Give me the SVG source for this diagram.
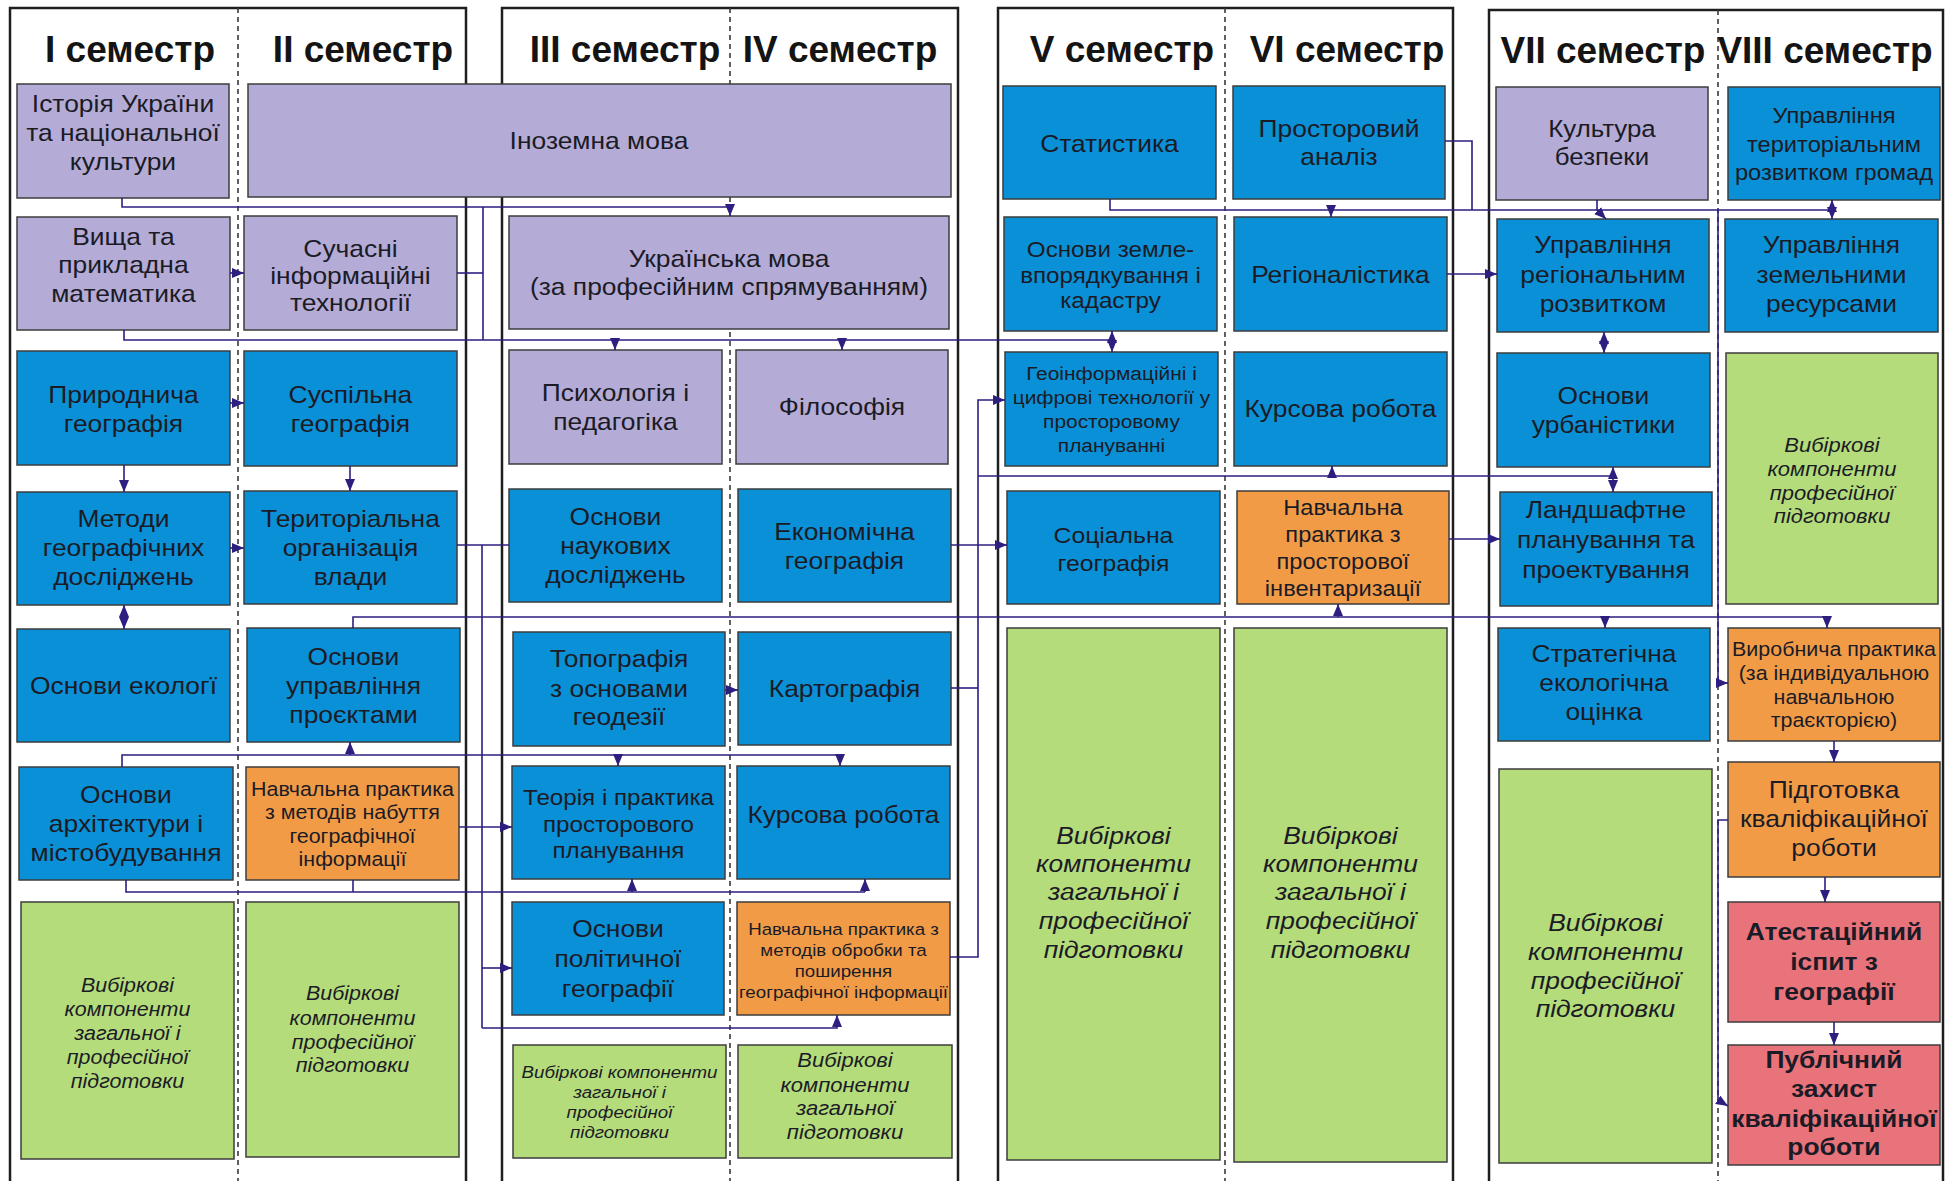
<svg xmlns="http://www.w3.org/2000/svg" width="1946" height="1181" viewBox="0 0 1946 1181">
<style>
.frame{fill:none;stroke:#1e1e1e;stroke-width:2.5}
.dash{stroke:#3a3a3a;stroke-width:1.6;stroke-dasharray:5,4}
.hd{font-family:"Liberation Sans",Arial,sans-serif;font-size:37px;font-weight:bold;fill:#141414;text-anchor:middle}
rect.n{stroke:#3d3d3d;stroke-width:1.5}
.lav{fill:#b4acd6}
.blu{fill:#0a90d7}
.org{fill:#f19b47}
.grn{fill:#b5dc7b}
.red{fill:#e9737b}
.t{font-family:"Liberation Sans",Arial,sans-serif;font-size:24px;fill:#1b1b26;text-anchor:middle;transform-box:fill-box;transform-origin:center;transform:scaleX(1.1)}
.i{font-style:italic}
.b{font-weight:bold}
.c{fill:none;stroke:#2d1f80;stroke-width:1.6}
.ca{fill:none;stroke:#2d1f80;stroke-width:1.6;marker-end:url(#a)}
</style>
<defs>
<marker id="a" viewBox="0 0 12 10" refX="12" refY="5" markerWidth="12" markerHeight="10" markerUnits="userSpaceOnUse" orient="auto"><path d="M0,0 L12,5 L0,10 z" fill="#2d1f80"/></marker>
</defs>
<rect width="1946" height="1181" fill="#ffffff"/>
<g id="frames">
<rect class="frame" x="10" y="8" width="456" height="1190"/>
<rect class="frame" x="502" y="8" width="456" height="1190"/>
<rect class="frame" x="998" y="8" width="455" height="1190"/>
<rect class="frame" x="1489" y="10" width="454" height="1190"/>
<line class="dash" x1="238" y1="8" x2="238" y2="1181"/>
<line class="dash" x1="730" y1="8" x2="730" y2="1181"/>
<line class="dash" x1="1225" y1="8" x2="1225" y2="1181"/>
<line class="dash" x1="1718" y1="10" x2="1718" y2="1181"/>
<text class="hd" x="130" y="62">I семестр</text>
<text class="hd" x="363" y="62">II семестр</text>
<text class="hd" x="625" y="62">III семестр</text>
<text class="hd" x="840" y="62">IV семестр</text>
<text class="hd" x="1122" y="62">V семестр</text>
<text class="hd" x="1347" y="62">VI семестр</text>
<text class="hd" x="1603" y="63">VII семестр</text>
<text class="hd" x="1825" y="63">VIII семестр</text>
</g>
<g id="n1"><rect class="n lav" x="17" y="84" width="212" height="114"/><text class="t"><tspan x="123" y="112">Історія України</tspan><tspan x="123" y="141">та національної</tspan><tspan x="123" y="170">культури</tspan></text></g>
<g id="n2"><rect class="n lav" x="248" y="84" width="703" height="113"/><text class="t"><tspan x="599" y="149">Іноземна мова</tspan></text></g>
<g id="n3"><rect class="n lav" x="17" y="217" width="213" height="113"/><text class="t"><tspan x="123.5" y="245">Вища та</tspan><tspan x="123.5" y="273">прикладна</tspan><tspan x="123.5" y="302">математика</tspan></text></g>
<g id="n4"><rect class="n lav" x="244" y="216" width="213" height="114"/><text class="t"><tspan x="350.5" y="257">Сучасні</tspan><tspan x="350.5" y="284">інформаційні</tspan><tspan x="350.5" y="311">технології</tspan></text></g>
<g id="n5"><rect class="n blu" x="17" y="351" width="213" height="114"/><text class="t"><tspan x="123.5" y="403">Природнича</tspan><tspan x="123.5" y="432">географія</tspan></text></g>
<g id="n6"><rect class="n blu" x="244" y="351" width="213" height="115"/><text class="t"><tspan x="350.5" y="403">Суспільна</tspan><tspan x="350.5" y="432">географія</tspan></text></g>
<g id="n7"><rect class="n blu" x="17" y="492" width="213" height="113"/><text class="t"><tspan x="123.5" y="527">Методи</tspan><tspan x="123.5" y="556">географічних</tspan><tspan x="123.5" y="585">досліджень</tspan></text></g>
<g id="n8"><rect class="n blu" x="244" y="491" width="213" height="113"/><text class="t"><tspan x="350.5" y="527">Територіальна</tspan><tspan x="350.5" y="556">організація</tspan><tspan x="350.5" y="585">влади</tspan></text></g>
<g id="n9"><rect class="n blu" x="17" y="629" width="213" height="113"/><text class="t"><tspan x="123.5" y="694">Основи екологї</tspan></text></g>
<g id="n10"><rect class="n blu" x="247" y="628" width="213" height="114"/><text class="t"><tspan x="353.5" y="665">Основи</tspan><tspan x="353.5" y="694">управління</tspan><tspan x="353.5" y="723">проєктами</tspan></text></g>
<g id="n11"><rect class="n blu" x="19" y="767" width="214" height="113"/><text class="t"><tspan x="126" y="803">Основи</tspan><tspan x="126" y="832">архітектури і</tspan><tspan x="126" y="861">містобудування</tspan></text></g>
<g id="n12"><rect class="n org" x="246" y="767" width="213" height="113"/><text class="t" style="font-size:19.5px"><tspan x="352.5" y="796">Навчальна практика</tspan><tspan x="352.5" y="819">з методів набуття</tspan><tspan x="352.5" y="843">географічної</tspan><tspan x="352.5" y="866">інформації</tspan></text></g>
<g id="n13"><rect class="n grn" x="21" y="902" width="213" height="257"/><text class="t i" style="font-size:19.5px"><tspan x="127.5" y="992">Вибіркові</tspan><tspan x="127.5" y="1016">компоненти</tspan><tspan x="127.5" y="1040">загальної і</tspan><tspan x="127.5" y="1064">професійної</tspan><tspan x="127.5" y="1088">підготовки</tspan></text></g>
<g id="n14"><rect class="n grn" x="246" y="902" width="213" height="255"/><text class="t i" style="font-size:19.5px"><tspan x="352.5" y="1000">Вибіркові</tspan><tspan x="352.5" y="1025">компоненти</tspan><tspan x="352.5" y="1049">професійної</tspan><tspan x="352.5" y="1072">підготовки</tspan></text></g>
<g id="n15"><rect class="n lav" x="509" y="216" width="440" height="113"/><text class="t"><tspan x="729" y="267">Українська мова</tspan><tspan x="729" y="295">(за професійним спрямуванням)</tspan></text></g>
<g id="n16"><rect class="n lav" x="509" y="350" width="213" height="114"/><text class="t"><tspan x="615.5" y="401">Психологія і</tspan><tspan x="615.5" y="430">педагогіка</tspan></text></g>
<g id="n17"><rect class="n lav" x="736" y="350" width="212" height="114"/><text class="t"><tspan x="842" y="415">Філософія</tspan></text></g>
<g id="n18"><rect class="n blu" x="509" y="489" width="213" height="113"/><text class="t"><tspan x="615.5" y="525">Основи</tspan><tspan x="615.5" y="554">наукових</tspan><tspan x="615.5" y="583">досліджень</tspan></text></g>
<g id="n19"><rect class="n blu" x="738" y="489" width="213" height="113"/><text class="t"><tspan x="844.5" y="540">Економічна</tspan><tspan x="844.5" y="569">географія</tspan></text></g>
<g id="n20"><rect class="n blu" x="513" y="632" width="212" height="114"/><text class="t"><tspan x="619" y="667">Топографія</tspan><tspan x="619" y="697">з основами</tspan><tspan x="619" y="725">геодезії</tspan></text></g>
<g id="n21"><rect class="n blu" x="738" y="632" width="213" height="113"/><text class="t"><tspan x="844.5" y="697">Картографія</tspan></text></g>
<g id="n22"><rect class="n blu" x="512" y="766" width="213" height="113"/><text class="t" style="font-size:22px"><tspan x="618.5" y="805">Теорія і практика</tspan><tspan x="618.5" y="832">просторового</tspan><tspan x="618.5" y="858">планування</tspan></text></g>
<g id="n23"><rect class="n blu" x="737" y="766" width="213" height="113"/><text class="t"><tspan x="843.5" y="823">Курсова робота</tspan></text></g>
<g id="n24"><rect class="n blu" x="512" y="902" width="212" height="113"/><text class="t"><tspan x="618" y="937">Основи</tspan><tspan x="618" y="967">політичної</tspan><tspan x="618" y="997">географії</tspan></text></g>
<g id="n25"><rect class="n org" x="737" y="902" width="213" height="113"/><text class="t" style="font-size:17px"><tspan x="843.5" y="935">Навчальна практика з</tspan><tspan x="843.5" y="956">методів обробки та</tspan><tspan x="843.5" y="977">поширення</tspan><tspan x="843.5" y="998">географічної інформації</tspan></text></g>
<g id="n26"><rect class="n grn" x="513" y="1045" width="213" height="113"/><text class="t i" style="font-size:17px"><tspan x="619.5" y="1078">Вибіркові компоненти</tspan><tspan x="619.5" y="1098">загальної і</tspan><tspan x="619.5" y="1118">професійної</tspan><tspan x="619.5" y="1138">підготовки</tspan></text></g>
<g id="n27"><rect class="n grn" x="738" y="1045" width="214" height="113"/><text class="t i" style="font-size:20px"><tspan x="845" y="1067">Вибіркові</tspan><tspan x="845" y="1092">компоненти</tspan><tspan x="845" y="1115">загальної</tspan><tspan x="845" y="1139">підготовки</tspan></text></g>
<g id="n28"><rect class="n blu" x="1003" y="86" width="213" height="113"/><text class="t"><tspan x="1109.5" y="152">Статистика</tspan></text></g>
<g id="n29"><rect class="n blu" x="1233" y="86" width="212" height="113"/><text class="t"><tspan x="1339" y="137">Просторовий</tspan><tspan x="1339" y="165">аналіз</tspan></text></g>
<g id="n30"><rect class="n blu" x="1004" y="217" width="213" height="114"/><text class="t" style="font-size:22px"><tspan x="1110.5" y="257">Основи земле-</tspan><tspan x="1110.5" y="283">впорядкування і</tspan><tspan x="1110.5" y="308">кадастру</tspan></text></g>
<g id="n31"><rect class="n blu" x="1234" y="217" width="213" height="114"/><text class="t"><tspan x="1340.5" y="283">Регіоналістика</tspan></text></g>
<g id="n32"><rect class="n blu" x="1005" y="352" width="213" height="114"/><text class="t" style="font-size:19px"><tspan x="1111.5" y="380">Геоінформаційні і</tspan><tspan x="1111.5" y="404">цифрові технології у</tspan><tspan x="1111.5" y="428">просторовому</tspan><tspan x="1111.5" y="452">плануванні</tspan></text></g>
<g id="n33"><rect class="n blu" x="1234" y="352" width="213" height="114"/><text class="t"><tspan x="1340.5" y="417">Курсова робота</tspan></text></g>
<g id="n34"><rect class="n blu" x="1007" y="491" width="213" height="113"/><text class="t" style="font-size:22.5px"><tspan x="1113.5" y="543">Соціальна</tspan><tspan x="1113.5" y="571">географія</tspan></text></g>
<g id="n35"><rect class="n org" x="1237" y="491" width="212" height="113"/><text class="t" style="font-size:21.5px"><tspan x="1343" y="515">Навчальна</tspan><tspan x="1343" y="542">практика з</tspan><tspan x="1343" y="569">просторової</tspan><tspan x="1343" y="596">інвентаризації</tspan></text></g>
<g id="n36"><rect class="n grn" x="1007" y="628" width="213" height="532"/><text class="t i"><tspan x="1113.5" y="844">Вибіркові</tspan><tspan x="1113.5" y="872">компоненти</tspan><tspan x="1113.5" y="900">загальної і</tspan><tspan x="1113.5" y="929">професійної</tspan><tspan x="1113.5" y="958">підготовки</tspan></text></g>
<g id="n37"><rect class="n grn" x="1234" y="628" width="213" height="534"/><text class="t i"><tspan x="1340.5" y="844">Вибіркові</tspan><tspan x="1340.5" y="872">компоненти</tspan><tspan x="1340.5" y="900">загальної і</tspan><tspan x="1340.5" y="929">професійної</tspan><tspan x="1340.5" y="958">підготовки</tspan></text></g>
<g id="n38"><rect class="n lav" x="1496" y="87" width="212" height="113"/><text class="t" style="font-size:23.5px"><tspan x="1602" y="137">Культура</tspan><tspan x="1602" y="165">безпеки</tspan></text></g>
<g id="n39"><rect class="n blu" x="1728" y="87" width="212" height="113"/><text class="t" style="font-size:21.5px"><tspan x="1834" y="123">Управління</tspan><tspan x="1834" y="152">територіальним</tspan><tspan x="1834" y="180">розвитком громад</tspan></text></g>
<g id="n40"><rect class="n blu" x="1497" y="219" width="212" height="113"/><text class="t"><tspan x="1603" y="253">Управління</tspan><tspan x="1603" y="283">регіональним</tspan><tspan x="1603" y="312">розвитком</tspan></text></g>
<g id="n41"><rect class="n blu" x="1725" y="219" width="213" height="113"/><text class="t"><tspan x="1831.5" y="253">Управління</tspan><tspan x="1831.5" y="283">земельними</tspan><tspan x="1831.5" y="312">ресурсами</tspan></text></g>
<g id="n42"><rect class="n blu" x="1497" y="353" width="213" height="114"/><text class="t"><tspan x="1603.5" y="404">Основи</tspan><tspan x="1603.5" y="433">урбаністики</tspan></text></g>
<g id="n43"><rect class="n grn" x="1726" y="353" width="212" height="251"/><text class="t i" style="font-size:20px"><tspan x="1832" y="452">Вибіркові</tspan><tspan x="1832" y="476">компоненти</tspan><tspan x="1832" y="500">професійної</tspan><tspan x="1832" y="523">підготовки</tspan></text></g>
<g id="n44"><rect class="n blu" x="1500" y="492" width="212" height="114"/><text class="t"><tspan x="1606" y="518">Ландшафтне</tspan><tspan x="1606" y="548">планування та</tspan><tspan x="1606" y="578">проектування</tspan></text></g>
<g id="n45"><rect class="n blu" x="1498" y="628" width="212" height="113"/><text class="t"><tspan x="1604" y="662">Стратегічна</tspan><tspan x="1604" y="691">екологічна</tspan><tspan x="1604" y="720">оцінка</tspan></text></g>
<g id="n46"><rect class="n org" x="1728" y="628" width="212" height="113"/><text class="t" style="font-size:19.5px"><tspan x="1834" y="656">Виробнича практика</tspan><tspan x="1834" y="680">(за індивідуальною</tspan><tspan x="1834" y="704">навчальною</tspan><tspan x="1834" y="727">траєкторією)</tspan></text></g>
<g id="n47"><rect class="n grn" x="1499" y="769" width="213" height="394"/><text class="t i"><tspan x="1605.5" y="931">Вибіркові</tspan><tspan x="1605.5" y="960">компоненти</tspan><tspan x="1605.5" y="989">професійної</tspan><tspan x="1605.5" y="1017">підготовки</tspan></text></g>
<g id="n48"><rect class="n org" x="1728" y="762" width="212" height="115"/><text class="t"><tspan x="1834" y="798">Підготовка</tspan><tspan x="1834" y="827">кваліфікаційної</tspan><tspan x="1834" y="856">роботи</tspan></text></g>
<g id="n49"><rect class="n red" x="1728" y="902" width="212" height="120"/><text class="t b" style="font-size:24px"><tspan x="1834" y="940">Атестаційний</tspan><tspan x="1834" y="970">іспит з</tspan><tspan x="1834" y="1000">географії</tspan></text></g>
<g id="n50"><rect class="n red" x="1728" y="1045" width="212" height="120"/><text class="t b" style="font-size:24px"><tspan x="1834" y="1068">Публічний</tspan><tspan x="1834" y="1097">захист</tspan><tspan x="1834" y="1127">кваліфікаційної</tspan><tspan x="1834" y="1155">роботи</tspan></text></g>
<g id="connectors">
<path class="ca" d="M122,198 V207 H730 V216"/>
<path class="c" d="M483,207 V340"/>
<path class="c" d="M457,273 H483"/>
<path class="c" d="M124,330 V340 H1112"/>
<path class="ca" d="M615,340 V350"/>
<path class="ca" d="M842,340 V350"/>
<path class="ca" d="M1112,340 V331"/>
<path class="ca" d="M1112,340 V352"/>
<path class="ca" d="M230,273 H244"/>
<path class="ca" d="M230,403 H244"/>
<path class="ca" d="M124,465 V492"/>
<path class="ca" d="M350,466 V491"/>
<path class="ca" d="M230,548 H244"/>
<path class="ca" d="M124,617 V605"/>
<path class="ca" d="M124,617 V629"/>
<path class="c" d="M457,545 H509"/>
<path class="c" d="M482,545 V1028"/>
<path class="c" d="M353,628 V617 H1827"/>
<path class="ca" d="M1338,617 V604"/>
<path class="ca" d="M1605,617 V628"/>
<path class="ca" d="M1827,617 V628"/>
<path class="c" d="M122,767 V755 H840"/>
<path class="ca" d="M350,755 V742"/>
<path class="ca" d="M618,755 V766"/>
<path class="ca" d="M840,755 V766"/>
<path class="c" d="M126,880 V892 H865"/>
<path class="c" d="M353,880 V892"/>
<path class="ca" d="M632,892 V879"/>
<path class="ca" d="M865,892 V879"/>
<path class="ca" d="M459,827 H512"/>
<path class="ca" d="M482,968 H512"/>
<path class="ca" d="M482,1028 H837 V1015"/>
<path class="ca" d="M725,690 H738"/>
<path class="ca" d="M951,545 H1007"/>
<path class="c" d="M951,688 H978"/>
<path class="ca" d="M950,957 H978 V400 H1005"/>
<path class="c" d="M978,476 H1613"/>
<path class="ca" d="M1332,476 V466"/>
<path class="ca" d="M1613,476 V467"/>
<path class="ca" d="M1613,476 V492"/>
<path class="c" d="M1110,199 V210 H1832"/>
<path class="ca" d="M1331,210 V217"/>
<path class="ca" d="M1832,210 V200"/>
<path class="ca" d="M1832,210 V219"/>
<path class="c" d="M1445,141 H1472 V210"/>
<path class="ca" d="M1447,274 H1497"/>
<path class="ca" d="M1597,200 V210 L1606,219"/>
<path class="ca" d="M1604,342 V332"/>
<path class="ca" d="M1604,342 V353"/>
<path class="ca" d="M1449,539 H1500"/>
<path class="ca" d="M1718,210 V683 H1728"/>
<path class="ca" d="M1834,741 V762"/>
<path class="ca" d="M1825,877 V902"/>
<path class="ca" d="M1834,1022 V1045"/>
<path class="ca" d="M1728,820 H1718 V1100 L1728,1106"/>
</g>
</svg>
